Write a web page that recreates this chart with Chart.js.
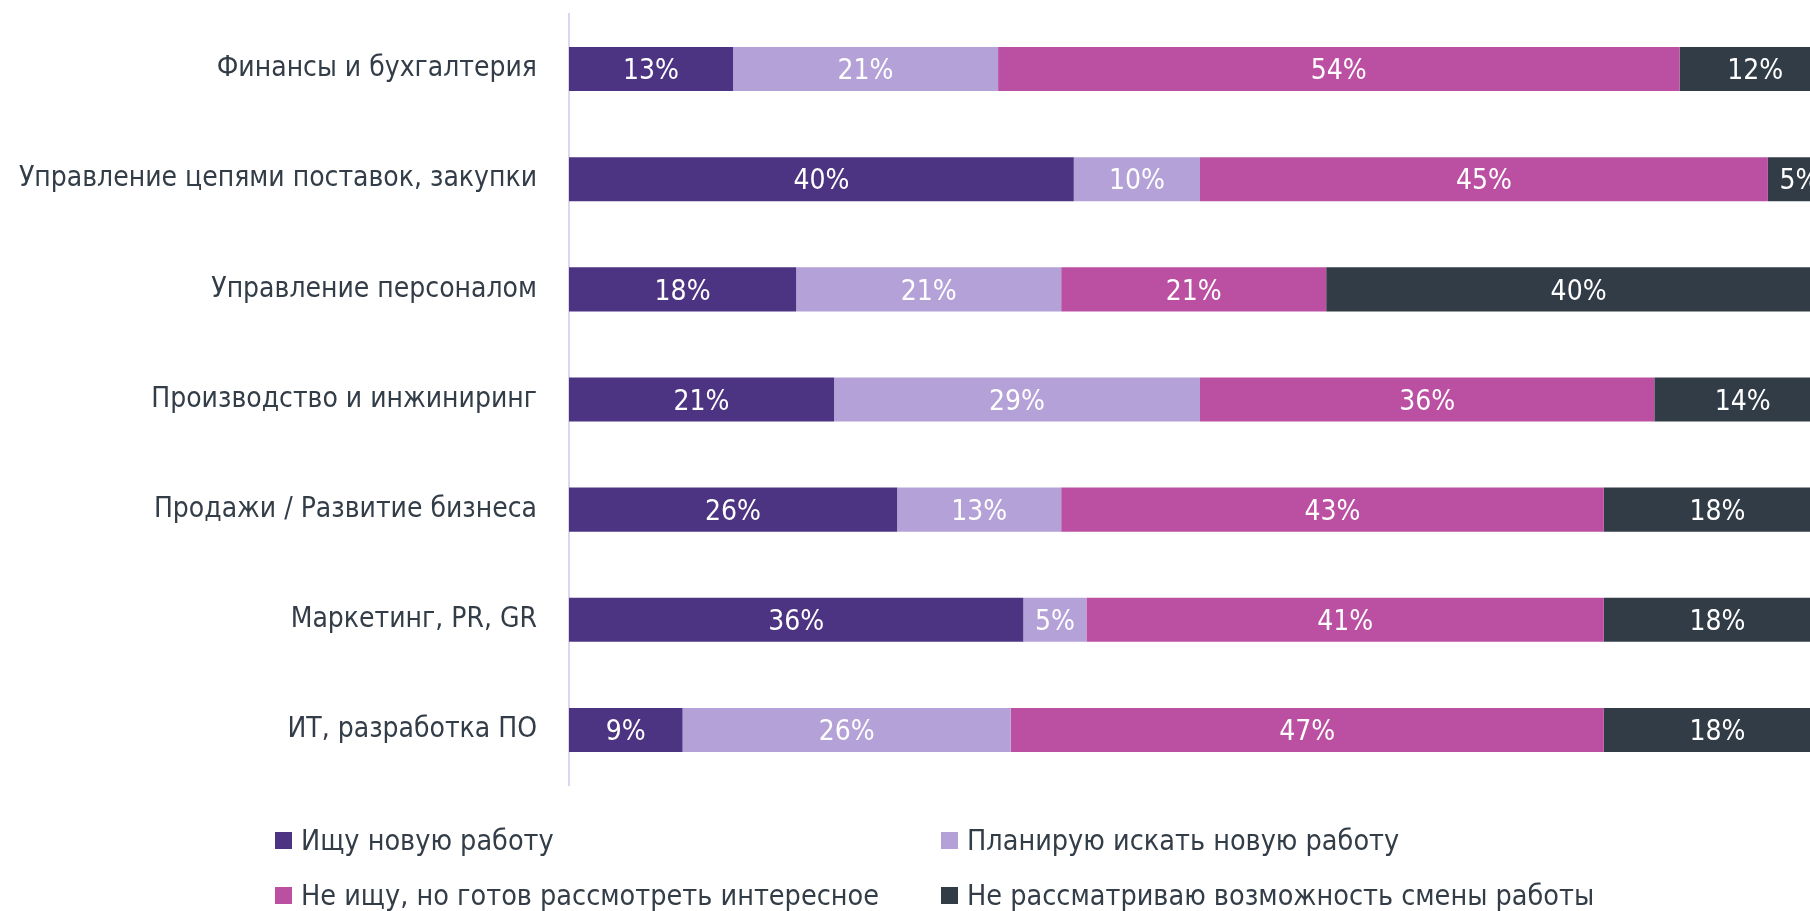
<!DOCTYPE html>
<html>
<head>
<meta charset="utf-8">
<script src="https://cdn.jsdelivr.net/npm/chart.js@4"></script>
<style>
  html, body { margin: 0; padding: 0; background: #fff; overflow: hidden; }
  #wrap { position: relative; width: 1840px; height: 911px; }
  #legend { position: absolute; left: 0; top: 0; width: 1840px; height: 911px; pointer-events: none;
            font-family: "DejaVu Sans Condensed", "Open Sans", sans-serif;
            font-size: 28.5px; color: #333d48; }
  .item { position: absolute; display: flex; align-items: center; white-space: nowrap; }
  .box { width: 17px; height: 17px; margin-right: 9px; }
</style>
</head>
<body>
<div id="wrap">
  <canvas id="chart" width="1840" height="911"></canvas>
  <div id="legend"></div>
</div>
<script>
const categories = [
    'Финансы и бухгалтерия',
    'Управление цепями поставок, закупки',
    'Управление персоналом',
    'Производство и инжиниринг',
    'Продажи / Развитие бизнеса',
    'Маркетинг, PR, GR',
    'ИТ, разработка ПО'
];
const seriesNames = [
    'Ищу новую работу',
    'Планирую искать новую работу',
    'Не ищу, но готов рассмотреть интересное',
    'Не рассматриваю возможность смены работы'
];
const lookingNow = [13, 40, 18, 21, 26, 36, 9];
const planning = [21, 10, 21, 29, 13, 5, 26];
const openToOffers = [54, 45, 21, 36, 43, 41, 47];
const notConsidering = [12, 5, 40, 14, 18, 18, 18];
const colors = ['#4c3483', '#b3a1d8', '#bb50a3', '#323c47'];

const fontFamily = '"DejaVu Sans Condensed", "Open Sans", sans-serif';

const values = [lookingNow, planning, openToOffers, notConsidering];

// white percentage labels in the middle of each segment
const segmentLabels = {
    id: 'segmentLabels',
    afterDatasetsDraw(chart) {
        const ctx = chart.ctx;
        ctx.save();
        ctx.fillStyle = '#ffffff';
        ctx.font = '28px ' + fontFamily;
        ctx.textAlign = 'center';
        ctx.textBaseline = 'middle';
        chart.data.datasets.forEach((ds, i) => {
            chart.getDatasetMeta(i).data.forEach((bar, j) => {
                const x = (bar.x + bar.base) / 2;
                ctx.fillText(ds.data[j] + '%', x, bar.y + 3);
            });
        });
        ctx.restore();
    }
};

new Chart(document.getElementById('chart'), {
    type: 'bar',
    data: {
        labels: categories,
        datasets: seriesNames.map((name, i) => ({
            label: name,
            data: values[i],
            backgroundColor: colors[i],
            borderWidth: 0,
            barPercentage: 0.4,
            categoryPercentage: 1.0
        }))
    },
    options: {
        indexAxis: 'y',
        responsive: false,
        animation: false,
        layout: { padding: { top: 14, bottom: 126, right: 9, left: 0 } },
        plugins: {
            legend: { display: false },
            tooltip: { enabled: false }
        },
        scales: {
            x: { stacked: true, min: 0, max: 100, display: false },
            y: {
                stacked: true,
                grid: { display: true, drawOnChartArea: false, drawTicks: true, tickLength: 30, color: 'rgba(0,0,0,0)' },
                border: { display: true, color: '#dcd6f0', width: 2 },
                ticks: {
                    color: '#333d48',
                    padding: 2,
                    font: { size: 28, family: fontFamily, lineHeight: 0.8 }
                },
                afterFit(scale) { scale.width = 569; }
            }
        }
    },
    plugins: [segmentLabels]
});

// legend laid out in two columns like the original
const legendPos = [[275, 840], [941, 840], [275, 895], [941, 895]];
const legend = document.getElementById('legend');
seriesNames.forEach((name, i) => {
    const item = document.createElement('div');
    item.className = 'item';
    item.style.left = legendPos[i][0] + 'px';
    item.style.top = (legendPos[i][1] - 18) + 'px';
    item.style.height = '36px';
    const box = document.createElement('span');
    box.className = 'box';
    box.style.background = colors[i];
    const txt = document.createElement('span');
    txt.textContent = name;
    item.appendChild(box);
    item.appendChild(txt);
    legend.appendChild(item);
});
</script>
</body>
</html>
